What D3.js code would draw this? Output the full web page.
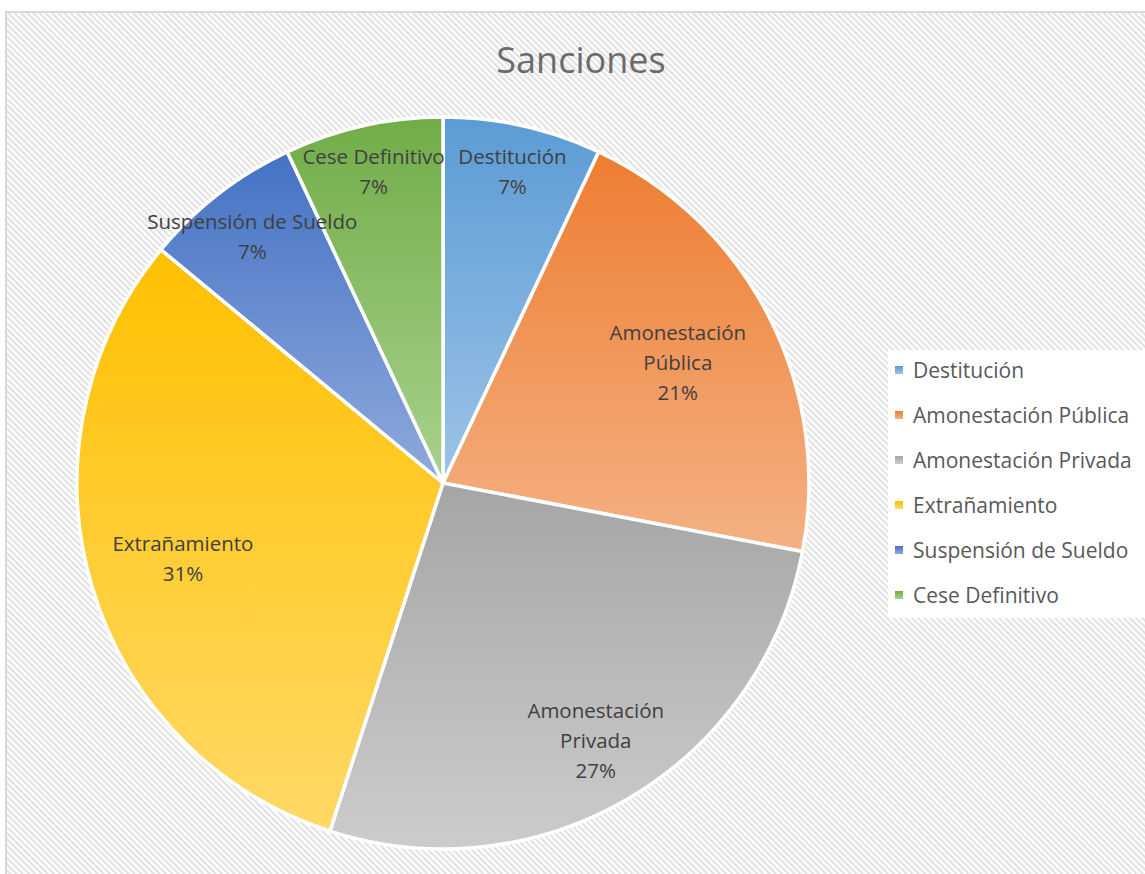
<!DOCTYPE html>
<html>
<head>
<meta charset="utf-8">
<script src="https://cdn.jsdelivr.net/npm/d3@7"></script>
<style>
  body { margin: 0; background: #fff; }
  text { font-family: "Open Sans", "Noto Sans", sans-serif; }
</style>
</head>
<body>
<svg id="chart" width="1145" height="874"></svg>
<script>
// data
var categories = ['Destitución', 'Amonestación Pública', 'Amonestación Privada', 'Extrañamiento', 'Suspensión de Sueldo', 'Cese Definitivo'];
var values = [7, 21, 27, 31, 7, 7];
// label text split in lines as shown on the slices
var labelLines = [['Destitución'], ['Amonestación', 'Pública'], ['Amonestación', 'Privada'], ['Extrañamiento'], ['Suspensión de Sueldo'], ['Cese Definitivo']];

// styles
var baseColors = ['#5b9bd5', '#ed7d31', '#a5a5a5', '#ffc000', '#4472c4', '#70ad47'];
var lightColors = ['#9dc3e6', '#f4b183', '#cccccc', '#ffd966', '#8faadc', '#a9d18e'];
// where Excel's "best fit" put each label, as a fraction of the radius
var labelRadius = [0.87, 0.72, 0.82, 0.74, 0.85, 0.87];

var cx = 443, cy = 483, radius = 366;

var svg = d3.select('#chart');
var defs = svg.append('defs');

// hatched background
var pat = defs.append('pattern')
    .attr('id', 'hatch')
    .attr('patternUnits', 'userSpaceOnUse')
    .attr('width', 4.4)
    .attr('height', 4.4)
    .attr('patternTransform', 'rotate(-45)');
pat.append('rect').attr('width', 4.4).attr('height', 4.4).attr('fill', '#ffffff');
pat.append('rect').attr('width', 2.2).attr('height', 4.4).attr('fill', '#e2e2e2');

svg.append('rect')
    .attr('x', 6).attr('y', 12)
    .attr('width', 1160).attr('height', 880)
    .attr('fill', 'url(#hatch)')
    .attr('stroke', '#d9d9d9')
    .attr('stroke-width', 2);

// title
svg.append('text')
    .attr('x', 581)
    .attr('y', 73)
    .attr('text-anchor', 'middle')
    .attr('font-size', 36)
    .attr('fill', '#6b6b6b')
    .text('Sanciones');

// gradients per slice
categories.forEach(function(c, i){
    var g = defs.append('linearGradient')
        .attr('id', 'grad' + i)
        .attr('x1', 0).attr('y1', 0)
        .attr('x2', 0).attr('y2', 1);
    g.append('stop').attr('offset', '0%').attr('stop-color', baseColors[i]);
    g.append('stop').attr('offset', '100%').attr('stop-color', lightColors[i]);
});

var pieData = d3.pie().sort(null).value(function(d){ return d; })(values);

var arc = d3.arc().innerRadius(0).outerRadius(radius);

var pieG = svg.append('g')
    .attr('transform', 'translate(' + cx + ',' + cy + ')');

pieG.selectAll('path')
    .data(pieData)
    .enter().append('path')
    .attr('d', arc)
    .attr('fill', function(d, i){ return 'url(#grad' + i + ')'; })
    .attr('stroke', '#ffffff')
    .attr('stroke-width', 3.5)
    .attr('stroke-linejoin', 'round');

var total = d3.sum(values);

// data labels
var lbl = pieG.selectAll('.lbl')
    .data(pieData)
    .enter().append('text')
    .attr('class', 'lbl')
    .attr('text-anchor', 'middle')
    .attr('font-size', 20.5)
    .attr('fill', '#404040')
    .attr('transform', function(d, i){
        var r = radius * labelRadius[i];
        var c = d3.arc().innerRadius(r).outerRadius(r).centroid(d);
        return 'translate(' + c[0] + ',' + c[1] + ')';
    });

lbl.each(function(d, i){
    var lines = labelLines[i].concat([Math.round(d.value / total * 100) + '%']);
    var n = lines.length;
    var t = d3.select(this);
    lines.forEach(function(s, k){
        t.append('tspan')
            .attr('x', 0)
            .attr('y', (k - (n - 1) / 2) * 30 + 7)
            .text(s);
    });
});

// legend
var legX = 888, legY = 350;
svg.append('rect')
    .attr('x', legX).attr('y', legY)
    .attr('width', 262).attr('height', 268)
    .attr('fill', '#ffffff');

var legend = svg.selectAll('.leg')
    .data(categories)
    .enter().append('g')
    .attr('class', 'leg')
    .attr('transform', function(d, i){ return 'translate(895,' + (370 + i * 45) + ')'; });

legend.append('rect')
    .attr('x', 0).attr('y', -4)
    .attr('width', 8).attr('height', 8)
    .attr('fill', function(d, i){ return 'url(#grad' + i + ')'; });

legend.append('text')
    .attr('x', 18)
    .attr('y', 7.5)
    .attr('font-size', 21)
    .attr('fill', '#595959')
    .text(function(d){ return d; });
</script>
</body>
</html>
